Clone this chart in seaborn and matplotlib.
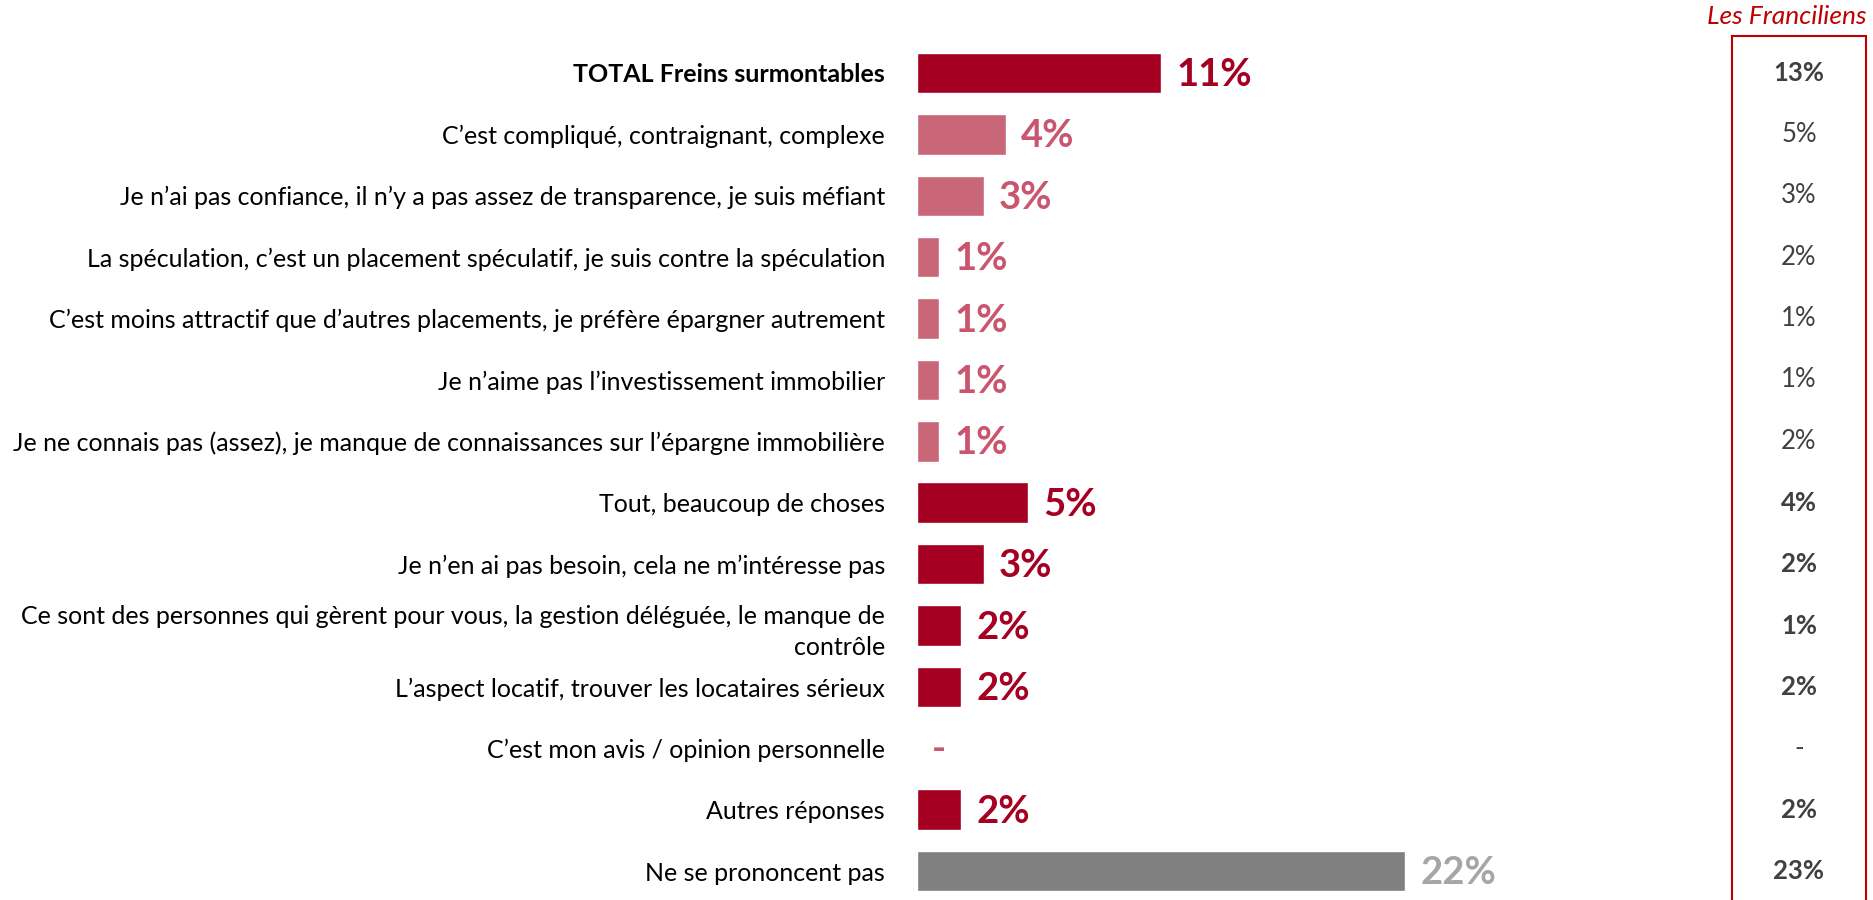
"""Freins à l'épargne immobilière : ensemble vs Franciliens."""

import matplotlib.pyplot as plt
import matplotlib.transforms as mtransforms
import seaborn as sns
from matplotlib.patches import Rectangle

CATEGORIES = [
    "TOTAL Freins surmontables",
    "C’est compliqué, contraignant, complexe",
    "Je n’ai pas confiance, il n’y a pas assez de transparence, je suis méfiant",
    "La spéculation, c’est un placement spéculatif, je suis contre la spéculation",
    "C’est moins attractif que d’autres placements, je préfère épargner autrement",
    "Je n’aime pas l’investissement immobilier",
    "Je ne connais pas (assez), je manque de connaissances sur l’épargne immobilière",
    "Tout, beaucoup de choses",
    "Je n’en ai pas besoin, cela ne m’intéresse pas",
    "Ce sont des personnes qui gèrent pour vous, la gestion déléguée, le manque de\ncontrôle",
    "L’aspect locatif, trouver les locataires sérieux",
    "C’est mon avis / opinion personnelle",
    "Autres réponses",
    "Ne se prononcent pas",
]
VALUES = [11, 4, 3, 1, 1, 1, 1, 5, 3, 2, 2, 0, 2, 22]
FRANCILIENS = [13, 5, 3, 2, 1, 1, 2, 4, 2, 1, 2, None, 2, 23]
KIND = ["dark", "pink", "pink", "pink", "pink", "pink", "pink",
        "dark", "dark", "dark", "dark", "pink", "dark", "grey"]

BAR_COLORS = {"dark": "#A50021", "pink": "#C96778", "grey": "#808080"}
TXT_COLORS = {"dark": "#A50021", "pink": "#C9566E", "grey": "#A6A6A6"}
FONT = ["Lato", "DejaVu Sans"]

sns.set_style("white")
plt.rcParams["font.family"] = FONT

fig = plt.figure(figsize=(18.73, 9), dpi=100)
ax = fig.add_axes([0.4896, -0.002, 0.4267, 0.955])

sns.barplot(
    x=VALUES, y=list(range(len(CATEGORIES))), hue=list(range(len(CATEGORIES))),
    palette=[BAR_COLORS[k] for k in KIND], orient="h", width=0.66,
    legend=False, ax=ax, saturation=1,
)
ax.set_xlim(0, 36)
ax.set_ylim(13.5, -0.5)

ax.set_yticks(range(len(CATEGORIES)))
ax.set_yticklabels(CATEGORIES, fontsize=18, color="#000000", ha="right",
                   linespacing=1.45)
ax.get_yticklabels()[0].set_fontweight("bold")
ax.tick_params(axis="y", length=0, pad=23)
ax.set_xticks([])
ax.set_xlabel("")
ax.set_ylabel("")
sns.despine(ax=ax, left=True, bottom=True)

for i, (v, k) in enumerate(zip(VALUES, KIND)):
    label = f"{v}%" if v else "-"
    ax.annotate(label, (v, i), xytext=(11, -1.5), textcoords="offset points",
                va="center", ha="left", fontsize=27.5, fontweight="bold",
                color=TXT_COLORS[k])

# colonne Franciliens
trans = mtransforms.blended_transform_factory(fig.transFigure, ax.transData)
col_x = 1799 / 1873
for i, (v, k) in enumerate(zip(FRANCILIENS, KIND)):
    label = f"{v}%" if v is not None else "-"
    bold = k != "pink"
    ax.text(col_x, i, label, transform=trans, ha="center", va="center",
            fontsize=18.5, fontweight="bold" if bold else "normal",
            color="#404040", clip_on=False)

fig.patches.append(Rectangle((1732 / 1873, -0.01), (1866 - 1732) / 1873, 1.01 - 36 / 900,
                             transform=fig.transFigure, fill=False,
                             edgecolor="#C00000", linewidth=1.5))
fig.text(1787 / 1873, 1 - 16 / 900, "Les Franciliens", ha="center", va="center",
         fontsize=19, fontstyle="italic", color="#C00000")

fig.savefig("out.png", dpi=100)
